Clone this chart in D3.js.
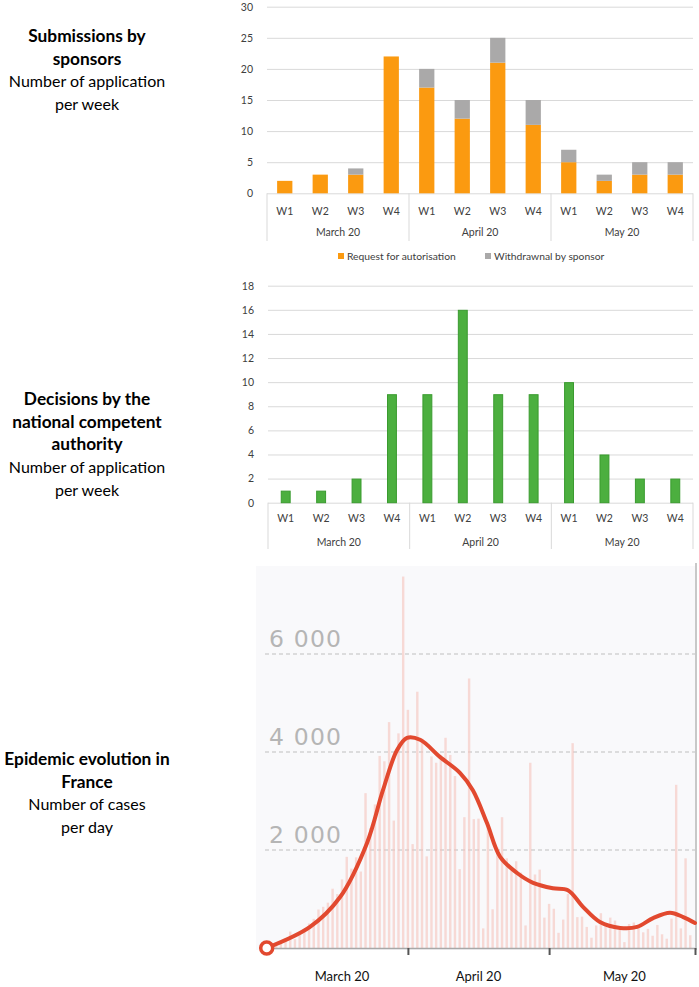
<!DOCTYPE html>
<html><head><meta charset="utf-8">
<script src="https://cdn.jsdelivr.net/npm/d3@7"></script>
<style>body{margin:0;background:#fff}svg{display:block}</style>
</head><body>
<svg id="c" width="699" height="987"></svg>
<script>
// ---------- data ----------
const months = ["March 20", "April 20", "May 20"];
const weeks = ["W1", "W2", "W3", "W4"];
const requestAuth = [2, 3, 3, 22, 17, 12, 21, 11, 5, 2, 3, 3];
const withdrawn   = [0, 0, 1, 0, 3, 3, 4, 4, 2, 1, 2, 2];
const decisions   = [1, 1, 2, 9, 9, 16, 9, 9, 10, 4, 2, 2];
const submissionTicks = [0, 5, 10, 15, 20, 25, 30];
const decisionTicks = [0, 2, 4, 6, 8, 10, 12, 14, 16, 18];
const legendLabels = ["Request for autorisation", "Withdrawnal by sponsor"];

// daily new cases in France, starting 2 March 2020 (day 1) to 31 May (day 91)
const dailyCases = [
  60, 20, 75, 140, 190, 335, 180, 285, 370, 500, 595, 785, 840, 925, 1210, 1100, 1400, 1860, 1620, 1850,
  1560, 3160, 2450, 2930, 3920, 3810, 4610, 2600, 4380, 7580,
  4860, 2120, 5230, 4270, 1870, 3910, 3780, 3880, 4290, 3940, 3510, 1610, 2670, 5500, 2630, 2640, 400, 2570, 790, 2050,
  2670, 1830, 1650, 1770, 1540, 460, 3780, 1500, 1600, 620,
  900, 800, 310, 580, 1100, 4180, 630, 640, 430, 210, 460, 710, 510, 620, 560, 370, 120, 490, 520, 420,
  320, 390, 250, 470, 280, 190, 600, 3330, 400, 1830, 260
];
// smoothed trend: day index (0 = 1 March) and value
const trendDays  = [1, 10.2, 16.6, 22.3, 25.7, 28.7, 30.8, 33.6, 37.8, 42.1, 44.8, 47.8, 50.6, 54.2, 57.6, 61.8, 65, 68.2, 71.8, 76.1, 79.7, 83.1, 86.7, 89.5, 92];
const trendCases = [0, 430, 1040, 2140, 3220, 4040, 4290, 4250, 3900, 3570, 3220, 2550, 1860, 1530, 1330, 1220, 1180, 840, 530, 410, 430, 610, 720, 630, 510];
const epidemicTicks = [2000, 4000, 6000];
const monthStartDays = [31, 61, 92];
const monthLabelDays = [17, 46, 77];

// ---------- setup ----------
const svg = d3.select("#c");
const cats = months.flatMap(m => weeks.map(w => m + "|" + w));
const excelFont = "Lato, 'Open Sans', sans-serif";

// ---------- left titles ----------
const titles = [
  {y: 42, bold: ["Submissions by", "sponsors"], normal: ["Number of application", "per week"]},
  {y: 405, bold: ["Decisions by the", "national competent", "authority"], normal: ["Number of application", "per week"]},
  {y: 765, bold: ["Epidemic evolution in", "France"], normal: ["Number of cases", "per day"]}
];
titles.forEach(t => {
  const lines = t.bold.map(s => ({s, b: true})).concat(t.normal.map(s => ({s, b: false})));
  svg.append("g").selectAll("text").data(lines).join("text")
    .attr("x", 87).attr("y", (d, i) => t.y + i * 22.7)
    .attr("text-anchor", "middle")
    .attr("font-family", excelFont)
    .attr("font-size", d => d.b ? 17.3 : 16)
    .attr("font-weight", d => d.b ? 700 : 400)
    .attr("fill", "#000")
    .text(d => d.s);
});

// ---------- Excel-style bar chart helper ----------
function excelFrame(g, y, ticks, x0, x1, yBottom) {
  g.append("g").attr("transform", `translate(${x0},0)`)
    .call(d3.axisLeft(y).tickValues(ticks).tickSize(-(x1 - x0)).tickPadding(14))
    .call(a => a.select(".domain").remove())
    .call(a => a.selectAll("line").attr("stroke", "#d9d9d9").attr("stroke-width", 1))
    .call(a => a.selectAll("text").attr("font-family", excelFont).attr("font-size", 10.5).attr("fill", "#404040"));
  const monthBand = d3.scaleBand().domain(months).range([x0, x1]);
  const bounds = months.map(m => monthBand(m)).concat([x1]);
  g.append("g").selectAll("line").data(bounds).join("line")
    .attr("x1", d => d).attr("x2", d => d)
    .attr("y1", y(0)).attr("y2", yBottom)
    .attr("stroke", "#d9d9d9").attr("stroke-width", 1);
  return monthBand;
}

// ---------- chart 1: submissions ----------
{
  const g = svg.append("g");
  const x = d3.scaleBand().domain(cats).range([267, 693]).paddingInner(0.57).paddingOuter(0.285);
  const y = d3.scaleLinear().domain([0, 30]).range([193.3, 6.7]);
  const monthBand = excelFrame(g, y, submissionTicks, 267, 693, 241);
  const rows = cats.map((c, i) => ({cat: c, req: requestAuth[i], wd: withdrawn[i]}));
  const stack = d3.stack().keys(["req", "wd"])(rows);
  const colors = {req: "#fb9a10", wd: "#aaa9a9"};
  g.append("g").selectAll("g").data(stack).join("g")
    .attr("fill", s => colors[s.key])
    .selectAll("rect").data(s => s).join("rect")
    .attr("x", d => x(d.data.cat)).attr("width", x.bandwidth())
    .attr("y", d => y(d[1])).attr("height", d => y(d[0]) - y(d[1]));
  g.append("g").selectAll("text").data(cats).join("text")
    .attr("x", d => x(d) + x.bandwidth() / 2).attr("y", 215)
    .attr("text-anchor", "middle").attr("font-family", excelFont).attr("font-size", 10.5).attr("fill", "#404040")
    .text(d => d.split("|")[1]);
  g.append("g").selectAll("text").data(months).join("text")
    .attr("x", d => monthBand(d) + monthBand.bandwidth() / 2).attr("y", 236)
    .attr("text-anchor", "middle").attr("font-family", excelFont).attr("font-size", 10.5).attr("fill", "#404040")
    .text(d => d);
  // legend
  const lg = g.append("g").selectAll("g").data(legendLabels).join("g")
    .attr("transform", (d, i) => `translate(${i === 0 ? 338 : 485},253)`);
  lg.append("rect").attr("width", 6).attr("height", 6).attr("fill", (d, i) => i === 0 ? colors.req : colors.wd);
  lg.append("text").attr("x", 9).attr("y", 6.5).attr("font-family", excelFont).attr("font-size", 10.3).attr("fill", "#404040").text(d => d);
}

// ---------- chart 2: decisions ----------
{
  const g = svg.append("g");
  const x = d3.scaleBand().domain(cats).range([268, 693]).paddingInner(0.72).paddingOuter(0.36);
  const y = d3.scaleLinear().domain([0, 18]).range([502.7, 285.7]);
  const monthBand = excelFrame(g, y, decisionTicks, 268, 693, 549);
  g.append("g").selectAll("rect").data(decisions).join("rect")
    .attr("x", (d, i) => x(cats[i]) + 0.5).attr("width", x.bandwidth() - 1)
    .attr("y", d => y(d) + 0.5).attr("height", d => y(0) - y(d) - 0.5)
    .attr("fill", "#4caf3f").attr("stroke", "#3a9b2f").attr("stroke-width", 1);
  g.append("g").selectAll("text").data(cats).join("text")
    .attr("x", d => x(d) + x.bandwidth() / 2).attr("y", 522)
    .attr("text-anchor", "middle").attr("font-family", excelFont).attr("font-size", 10.5).attr("fill", "#404040")
    .text(d => d.split("|")[1]);
  g.append("g").selectAll("text").data(months).join("text")
    .attr("x", d => monthBand(d) + monthBand.bandwidth() / 2).attr("y", 546)
    .attr("text-anchor", "middle").attr("font-family", excelFont).attr("font-size", 10.5).attr("fill", "#404040")
    .text(d => d);
}

// ---------- chart 3: epidemic ----------
{
  const g = svg.append("g");
  const x = d3.scaleLinear().domain([0, 92]).range([262, 695]);
  const y = d3.scaleLinear().domain([0, 6000]).range([948, 654]);
  const fmt = d3.formatLocale({decimal: ",", thousands: " ", grouping: [3], currency: ["", ""]}).format(",d");

  g.append("rect").attr("x", 256).attr("y", 566).attr("width", 440).attr("height", 384).attr("fill", "#f9f9fb");

  // gridlines
  g.append("g").selectAll("line").data(epidemicTicks).join("line")
    .attr("x1", 265).attr("x2", 695).attr("y1", d => y(d)).attr("y2", d => y(d))
    .attr("stroke", "#c0c0c0").attr("stroke-width", 1.2).attr("stroke-dasharray", "4,3");

  // daily bars
  g.append("g").selectAll("rect").data(dailyCases).join("rect")
    .attr("x", (d, i) => x(i + 1) - 1.2).attr("width", 2.4)
    .attr("y", d => y(d)).attr("height", d => y(0) - y(d))
    .attr("fill", "#f5c3bc").attr("opacity", 0.6);

  // tick labels
  g.append("g").selectAll("text").data(epidemicTicks).join("text")
    .attr("x", 269).attr("y", d => y(d) - 7)
    .attr("font-family", "'DejaVu Sans', sans-serif").attr("font-size", 23.5)
    .attr("letter-spacing", 1.2).attr("fill", "#b5b5b5")
    .text(d => fmt(d));

  // right border
  g.append("line").attr("x1", 696).attr("x2", 696).attr("y1", 563).attr("y2", 950)
    .attr("stroke", "#c8c8c8").attr("stroke-width", 2);

  // x axis
  g.append("g").attr("transform", `translate(0,${y(0)})`)
    .call(d3.axisBottom(x).tickValues(monthStartDays).tickSize(7).tickFormat(""))
    .call(a => a.select(".domain").attr("stroke", "#a8a8a8").attr("stroke-width", 1.5).attr("d", `M${x(1)},0.5H${x(92)}`))
    .call(a => a.selectAll(".tick line").attr("stroke", "#555").attr("stroke-width", 2));

  g.append("g").selectAll("text").data(months).join("text")
    .attr("x", (d, i) => x(monthLabelDays[i])).attr("y", 981)
    .attr("text-anchor", "middle").attr("font-family", excelFont).attr("font-size", 13).attr("fill", "#111")
    .text(d => d);

  // trend curve
  const pts = trendDays.map((d, i) => [d, trendCases[i]]);
  g.append("path").datum(pts)
    .attr("d", d3.line().x(d => x(d[0])).y(d => y(d[1])).curve(d3.curveCatmullRom.alpha(0.5)))
    .attr("fill", "none").attr("stroke", "#e2492f").attr("stroke-width", 4).attr("stroke-linecap", "round");
  g.append("circle").attr("cx", x(pts[0][0])).attr("cy", y(pts[0][1])).attr("r", 6)
    .attr("fill", "#fff").attr("stroke", "#e2492f").attr("stroke-width", 3.5);
}
</script>
</body></html>
